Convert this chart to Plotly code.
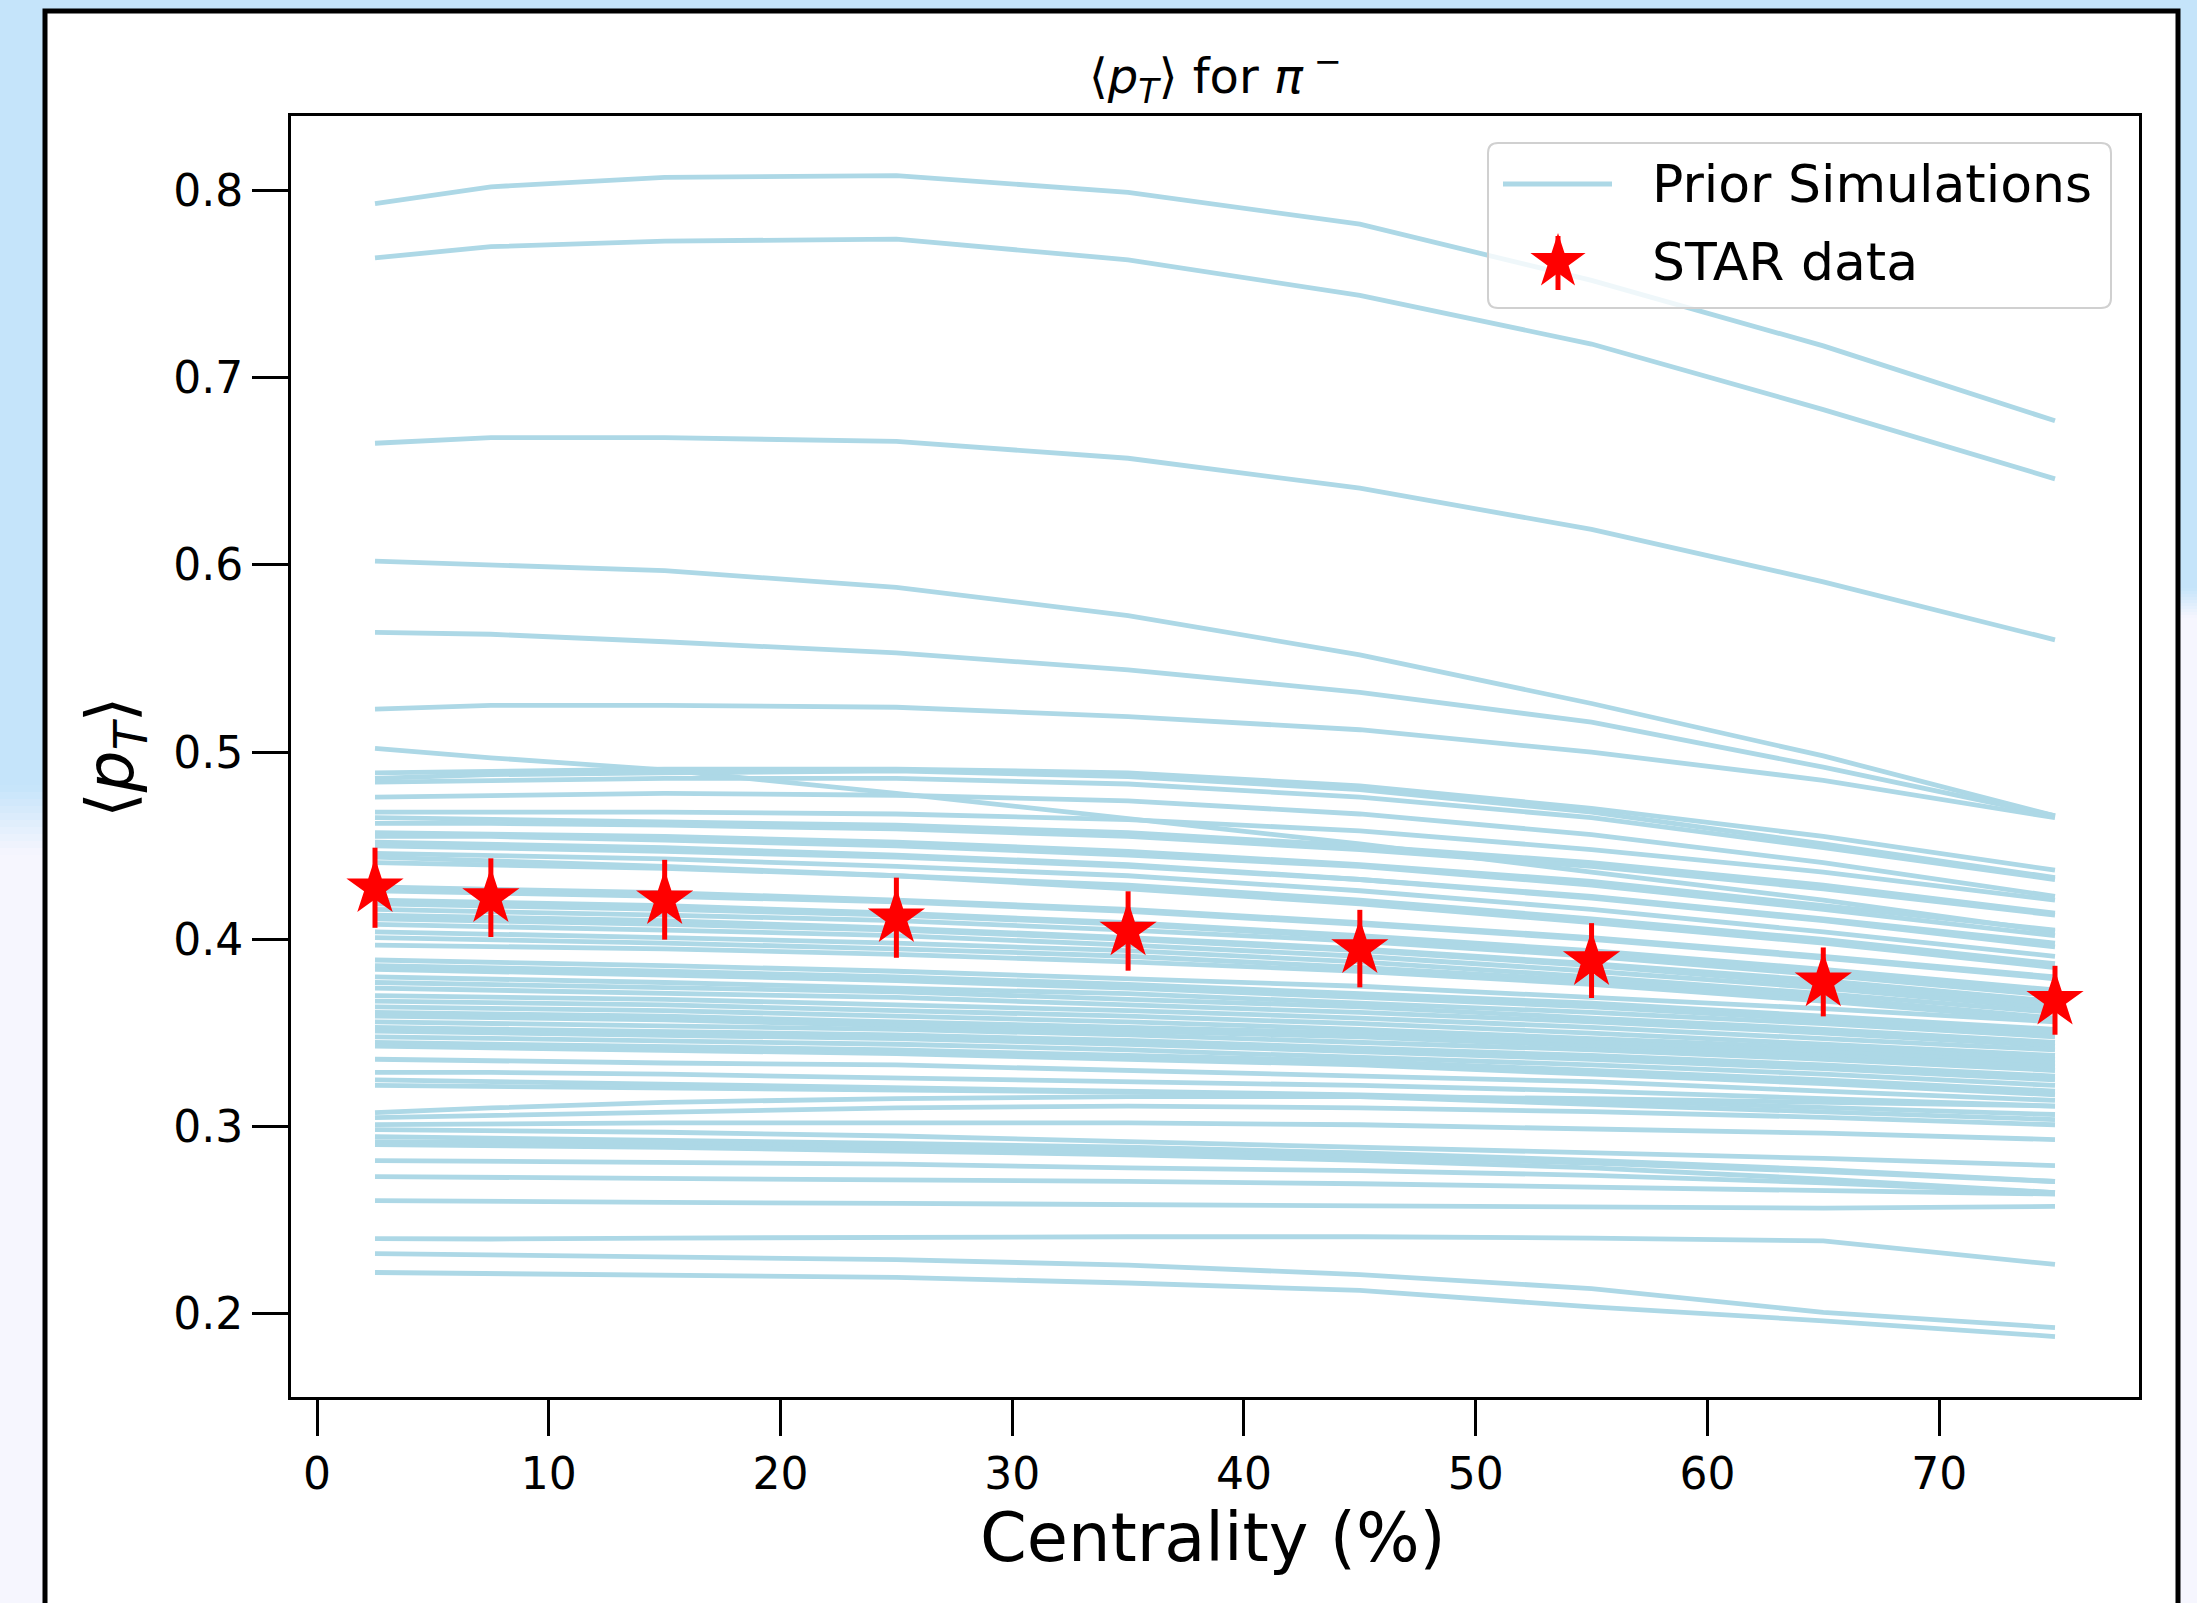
import math
import plotly.graph_objects as go

# ---------------- data ----------------
centrality = [2.5, 7.5, 15, 25, 35, 45, 55, 65, 75]

star_mean_pt = [0.4276, 0.4223, 0.4212, 0.4116, 0.4045, 0.3951, 0.3887, 0.3773, 0.3675]
star_err = [0.0214, 0.0210, 0.0213, 0.0214, 0.0212, 0.0207, 0.0200, 0.0184, 0.0184]

x_tick_vals = [0, 10, 20, 30, 40, 50, 60, 70]
y_tick_vals = [0.2, 0.3, 0.4, 0.5, 0.6, 0.7, 0.8]
y_tick_text = ["0.2", "0.3", "0.4", "0.5", "0.6", "0.7", "0.8"]

sim_01 = [0.793, 0.802, 0.807, 0.808, 0.799, 0.782, 0.752, 0.717, 0.677]
sim_02 = [0.764, 0.770, 0.773, 0.774, 0.763, 0.744, 0.718, 0.683, 0.646]
sim_03 = [0.665, 0.668, 0.668, 0.666, 0.657, 0.641, 0.619, 0.591, 0.560]
sim_04 = [0.602, 0.600, 0.597, 0.588, 0.573, 0.552, 0.526, 0.498, 0.466]
sim_05 = [0.564, 0.563, 0.559, 0.553, 0.544, 0.532, 0.516, 0.492, 0.466]
sim_06 = [0.523, 0.525, 0.525, 0.524, 0.519, 0.512, 0.500, 0.485, 0.465]
sim_07 = [0.502, 0.497, 0.4905, 0.478, 0.4645, 0.451, 0.436, 0.421, 0.404]
sim_08 = [0.489, 0.490, 0.491, 0.491, 0.489, 0.482, 0.470, 0.455, 0.437]
sim_09 = [0.486, 0.488, 0.489, 0.490, 0.487, 0.480, 0.468, 0.451, 0.433]
sim_10 = [0.484, 0.485, 0.486, 0.486, 0.483, 0.476, 0.465, 0.449, 0.432]
sim_11 = [0.476, 0.477, 0.478, 0.477, 0.474, 0.467, 0.456, 0.441, 0.423]
sim_12 = [0.468, 0.468, 0.468, 0.467, 0.464, 0.458, 0.448, 0.436, 0.421]
sim_13 = [0.465, 0.464, 0.463, 0.461, 0.457, 0.450, 0.441, 0.429, 0.414]
sim_14 = [0.462, 0.462, 0.461, 0.459, 0.455, 0.448, 0.439, 0.427, 0.413]
sim_15 = [0.457, 0.456, 0.455, 0.452, 0.447, 0.440, 0.431, 0.418, 0.405]
sim_16 = [0.455, 0.455, 0.453, 0.450, 0.445, 0.439, 0.429, 0.416, 0.402]
sim_17 = [0.452, 0.451, 0.449, 0.445, 0.440, 0.432, 0.422, 0.410, 0.396]
sim_18 = [0.450, 0.449, 0.447, 0.444, 0.439, 0.432, 0.423, 0.411, 0.398]
sim_19 = [0.446, 0.445, 0.443, 0.439, 0.434, 0.426, 0.416, 0.404, 0.391]
sim_20 = [0.444, 0.442, 0.439, 0.434, 0.427, 0.419, 0.409, 0.398, 0.385]
sim_21 = [0.441, 0.440, 0.438, 0.434, 0.429, 0.421, 0.411, 0.400, 0.387]
sim_22 = [0.428, 0.427, 0.425, 0.421, 0.416, 0.409, 0.401, 0.391, 0.380]
sim_23 = [0.426, 0.425, 0.423, 0.420, 0.415, 0.408, 0.400, 0.390, 0.379]
sim_24 = [0.421, 0.420, 0.418, 0.414, 0.409, 0.402, 0.394, 0.384, 0.373]
sim_25 = [0.419, 0.418, 0.416, 0.413, 0.408, 0.401, 0.392, 0.382, 0.371]
sim_26 = [0.416, 0.415, 0.413, 0.410, 0.405, 0.399, 0.391, 0.381, 0.370]
sim_27 = [0.413, 0.412, 0.410, 0.406, 0.401, 0.395, 0.387, 0.378, 0.367]
sim_28 = [0.411, 0.410, 0.408, 0.405, 0.400, 0.394, 0.386, 0.376, 0.365]
sim_29 = [0.408, 0.407, 0.405, 0.402, 0.397, 0.391, 0.383, 0.374, 0.363]
sim_30 = [0.404, 0.403, 0.401, 0.398, 0.394, 0.388, 0.380, 0.371, 0.361]
sim_31 = [0.401, 0.400, 0.398, 0.395, 0.391, 0.385, 0.378, 0.369, 0.358]
sim_32 = [0.397, 0.396, 0.395, 0.392, 0.388, 0.383, 0.376, 0.367, 0.357]
sim_33 = [0.389, 0.388, 0.386, 0.383, 0.379, 0.375, 0.369, 0.363, 0.356]
sim_34 = [0.386, 0.385, 0.383, 0.380, 0.376, 0.371, 0.366, 0.359, 0.352]
sim_35 = [0.384, 0.383, 0.381, 0.378, 0.374, 0.369, 0.364, 0.357, 0.350]
sim_36 = [0.380, 0.379, 0.377, 0.374, 0.371, 0.366, 0.361, 0.355, 0.348]
sim_37 = [0.377, 0.376, 0.374, 0.372, 0.368, 0.364, 0.358, 0.352, 0.345]
sim_38 = [0.374, 0.373, 0.371, 0.369, 0.365, 0.361, 0.356, 0.350, 0.343]
sim_39 = [0.370, 0.369, 0.368, 0.365, 0.362, 0.358, 0.353, 0.347, 0.341]
sim_40 = [0.367, 0.366, 0.365, 0.362, 0.359, 0.355, 0.350, 0.344, 0.338]
sim_41 = [0.364, 0.363, 0.362, 0.359, 0.356, 0.352, 0.347, 0.342, 0.336]
sim_42 = [0.361, 0.360, 0.359, 0.356, 0.353, 0.350, 0.345, 0.340, 0.334]
sim_43 = [0.359, 0.358, 0.357, 0.354, 0.351, 0.348, 0.343, 0.338, 0.332]
sim_44 = [0.356, 0.355, 0.354, 0.352, 0.349, 0.345, 0.341, 0.336, 0.330]
sim_45 = [0.353, 0.352, 0.351, 0.349, 0.346, 0.342, 0.338, 0.333, 0.327]
sim_46 = [0.351, 0.350, 0.349, 0.347, 0.344, 0.340, 0.336, 0.331, 0.325]
sim_47 = [0.348, 0.347, 0.346, 0.344, 0.341, 0.337, 0.333, 0.328, 0.322]
sim_48 = [0.345, 0.344, 0.343, 0.341, 0.338, 0.335, 0.330, 0.325, 0.319]
sim_49 = [0.343, 0.342, 0.341, 0.339, 0.336, 0.333, 0.328, 0.323, 0.317]
sim_50 = [0.336, 0.335, 0.334, 0.333, 0.330, 0.327, 0.324, 0.319, 0.314]
sim_51 = [0.329, 0.329, 0.328, 0.326, 0.324, 0.322, 0.319, 0.315, 0.311]
sim_52 = [0.325, 0.324, 0.323, 0.321, 0.319, 0.317, 0.314, 0.310, 0.3065]
sim_53 = [0.322, 0.3215, 0.321, 0.320, 0.3185, 0.316, 0.312, 0.308, 0.3038]
sim_54 = [0.3075, 0.310, 0.313, 0.315, 0.316, 0.316, 0.315, 0.313, 0.311]
sim_55 = [0.3048, 0.306, 0.308, 0.310, 0.311, 0.310, 0.308, 0.305, 0.301]
sim_56 = [0.3011, 0.3015, 0.302, 0.302, 0.302, 0.301, 0.299, 0.2965, 0.2931]
sim_57 = [0.2984, 0.298, 0.297, 0.295, 0.292, 0.289, 0.286, 0.283, 0.2792]
sim_58 = [0.2947, 0.294, 0.293, 0.291, 0.289, 0.286, 0.282, 0.277, 0.2707]
sim_59 = [0.292, 0.2915, 0.291, 0.289, 0.287, 0.284, 0.2805, 0.276, 0.2707]
sim_60 = [0.2904, 0.290, 0.289, 0.287, 0.285, 0.282, 0.278, 0.272, 0.2648]
sim_61 = [0.2819, 0.2815, 0.281, 0.280, 0.278, 0.2765, 0.274, 0.270, 0.2648]
sim_62 = [0.2733, 0.2730, 0.2725, 0.2718, 0.2708, 0.2695, 0.2678, 0.2660, 0.2640]
sim_63 = [0.2605, 0.2600, 0.2595, 0.2590, 0.2585, 0.2578, 0.2570, 0.2565, 0.2574]
sim_64 = [0.2402, 0.2400, 0.2405, 0.2410, 0.2412, 0.2412, 0.2405, 0.2390, 0.2264]
sim_65 = [0.2322, 0.2315, 0.2305, 0.2290, 0.2260, 0.2210, 0.2135, 0.2008, 0.1927]
sim_66 = [0.2221, 0.2215, 0.2210, 0.2195, 0.2165, 0.2125, 0.2037, 0.1963, 0.1879]

prior_sims = [sim_01, sim_02, sim_03, sim_04, sim_05, sim_06, sim_07, sim_08, sim_09, sim_10,
              sim_11, sim_12, sim_13, sim_14, sim_15, sim_16, sim_17, sim_18, sim_19, sim_20,
              sim_21, sim_22, sim_23, sim_24, sim_25, sim_26, sim_27, sim_28, sim_29, sim_30,
              sim_31, sim_32, sim_33, sim_34, sim_35, sim_36, sim_37, sim_38, sim_39, sim_40,
              sim_41, sim_42, sim_43, sim_44, sim_45, sim_46, sim_47, sim_48, sim_49, sim_50,
              sim_51, sim_52, sim_53, sim_54, sim_55, sim_56, sim_57, sim_58, sim_59, sim_60,
              sim_61, sim_62, sim_63, sim_64, sim_65, sim_66]

# ---------------- layout geometry (pixels) ----------------
W, H = 2197, 1603
L, R, T, B = 291, 2139, 116, 1397
FONT = "DejaVu Sans"
SIM_COLOR = "#add8e6"


def px(x):
    return (x - L) / (R - L)


def py(y):
    return (B - y) / (B - T)


def rect(x0, y0, x1, y1, **kw):
    return dict(type="rect", xref="paper", yref="paper",
                x0=px(x0), x1=px(x1), y0=py(y0), y1=py(y1), **kw)


def rrect_path(x0, y0, x1, y1, r):
    pts = [("M", [(x0 + r, y0)]), ("L", [(x1 - r, y0)]), ("Q", [(x1, y0), (x1, y0 + r)]),
           ("L", [(x1, y1 - r)]), ("Q", [(x1, y1), (x1 - r, y1)]), ("L", [(x0 + r, y1)]),
           ("Q", [(x0, y1), (x0, y1 - r)]), ("L", [(x0, y0 + r)]), ("Q", [(x0, y0), (x0 + r, y0)])]
    s = ""
    for cmd, ps in pts:
        s += cmd + " " + " ".join(f"{px(a):.5f},{py(b):.5f}" for a, b in ps) + " "
    return s + "Z"


def star_path(cx, cy, rad):
    pts = []
    for k in range(10):
        ang = -math.pi / 2 + k * math.pi / 5
        rr = rad if k % 2 == 0 else rad * 0.382
        pts.append((cx + rr * math.cos(ang), cy + rr * math.sin(ang)))
    return "M " + " L ".join(f"{px(a):.5f},{py(b):.5f}" for a, b in pts) + " Z"


fig = go.Figure()

for s in prior_sims:
    fig.add_trace(go.Scatter(
        x=centrality, y=s, mode="lines",
        line=dict(color=SIM_COLOR, width=4.8),
        name="Prior Simulations", legendgroup="prior", showlegend=False,
        hoverinfo="skip"))

fig.add_trace(go.Scatter(
    x=centrality, y=star_mean_pt, mode="markers",
    marker=dict(symbol="star", size=43, color="red", line=dict(width=0)),
    error_y=dict(type="data", array=star_err, color="red", thickness=5, width=0),
    name="STAR data", showlegend=False))

shapes = []
# outer slide background
BLUE = "#c5e4fa"
PALE = "#f6f6fe"
shapes.append(rect(0, 0, W, 11, fillcolor=BLUE, line_width=0, layer="below"))
shapes.append(rect(0, 0, 45, 785, fillcolor=BLUE, line_width=0, layer="below"))
shapes.append(rect(2179, 0, W, 588, fillcolor=BLUE, line_width=0, layer="below"))


def mix(c1, c2, t):
    a = [int(c1[i:i + 2], 16) for i in (1, 3, 5)]
    b = [int(c2[i:i + 2], 16) for i in (1, 3, 5)]
    return "#" + "".join(f"{round(a[i] + (b[i] - a[i]) * t):02x}" for i in range(3))


steps = 10
for k in range(steps):
    t = (k + 0.5) / steps
    y0 = 785 + k * 7
    shapes.append(rect(0, y0, 45, y0 + 7, fillcolor=mix(BLUE, PALE, t), line_width=0, layer="below"))
    y0r = 588 + k * 3
    shapes.append(rect(2179, y0r, W, y0r + 3, fillcolor=mix(BLUE, PALE, t), line_width=0, layer="below"))

# black slide frame with white interior
shapes.append(rect(45, 11, 2178, 1660, fillcolor="white",
                   line=dict(color="black", width=5), layer="below"))

# legend box
LEG_X0, LEG_Y0, LEG_X1, LEG_Y1 = 1488, 143, 2111, 308
shapes.append(dict(type="path", xref="paper", yref="paper",
                   path=rrect_path(LEG_X0, LEG_Y0, LEG_X1, LEG_Y1, 10),
                   fillcolor="rgba(255,255,255,0.8)",
                   line=dict(color="#d0d0d0", width=2), layer="above"))
# legend swatches
shapes.append(dict(type="line", xref="paper", yref="paper",
                   x0=px(1503), x1=px(1612), y0=py(184), y1=py(184),
                   line=dict(color=SIM_COLOR, width=4.8), layer="above"))
shapes.append(dict(type="line", xref="paper", yref="paper",
                   x0=px(1558), x1=px(1558), y0=py(236), y1=py(290),
                   line=dict(color="red", width=5), layer="above"))
shapes.append(dict(type="path", xref="paper", yref="paper",
                   path=star_path(1558, 262, 29), fillcolor="red",
                   line=dict(width=0), layer="above"))

annotations = [
    dict(text="Prior Simulations", xref="paper", yref="paper", x=px(1650), y=py(184),
         xanchor="left", yanchor="middle", showarrow=False,
         font=dict(family=FONT, size=52, color="black")),
    dict(text="STAR data", xref="paper", yref="paper", x=px(1650), y=py(262),
         xanchor="left", yanchor="middle", showarrow=False,
         font=dict(family=FONT, size=52, color="black")),
    dict(text="⟨<i>p</i><sub><i>T</i></sub>⟩ for <i>π</i><sup> −</sup>",
         xref="paper", yref="paper", x=0.5, y=py(77),
         xanchor="center", yanchor="middle", showarrow=False,
         font=dict(family=FONT, size=48, color="black")),
    dict(text="Centrality (%)", xref="paper", yref="paper", x=px(1213), y=py(1538),
         xanchor="center", yanchor="middle", showarrow=False,
         font=dict(family=FONT, size=67, color="black")),
    dict(text="⟨<i>p</i><sub><i>T</i></sub>⟩", xref="paper", yref="paper",
         x=px(115), y=py(757), xanchor="center", yanchor="middle", textangle=-90,
         showarrow=False, font=dict(family=FONT, size=66, color="black")),
]

axis_common = dict(showline=True, mirror=True, linecolor="black", linewidth=3,
                   ticks="outside", ticklen=36, tickwidth=2.5, tickcolor="black",
                   showgrid=False, zeroline=False,
                   tickfont=dict(family=FONT, size=44, color="black"))

fig.update_layout(
    width=W, height=H, autosize=False,
    margin=dict(l=L, r=W - R, t=T, b=H - B, pad=0),
    paper_bgcolor=PALE, plot_bgcolor="white",
    showlegend=False,
    shapes=shapes, annotations=annotations,
    xaxis=dict(range=[-1.125, 78.625], tickvals=x_tick_vals, **axis_common),
    yaxis=dict(range=[0.1556, 0.8398], tickvals=y_tick_vals, ticktext=y_tick_text,
               **axis_common),
)

fig.write_html("out.html",
               config={"displayModeBar": False},
               post_script="document.body.style.margin='0';document.body.style.padding='0';")
